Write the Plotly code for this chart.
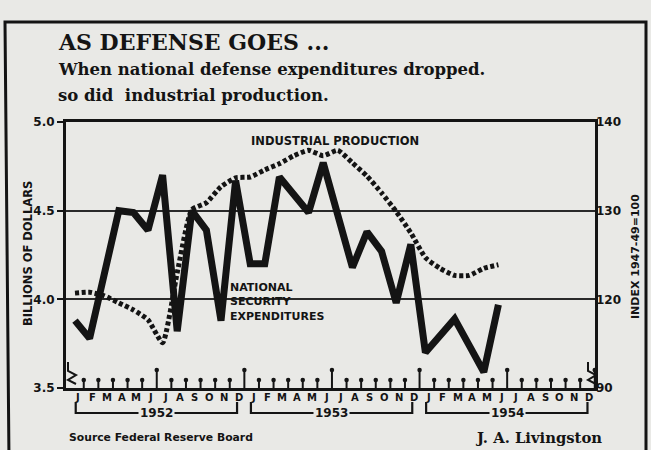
import plotly.graph_objects as go

# ---------------- data ----------------
month_letters = ["J", "F", "M", "A", "M", "J", "J", "A", "S", "O", "N", "D"]
years = ["1952", "1953", "1954"]

# National security expenditures, billions of dollars (Jan 1952 .. Jun 1954)
defense = [3.88, 3.78, 4.14, 4.50, 4.49, 4.39, 4.70, 3.82, 4.50, 4.39, 3.88, 4.67,
           4.20, 4.20, 4.69, 4.59, 4.49, 4.77, 4.48, 4.18, 4.38, 4.27, 3.98, 4.31,
           3.70, 3.80, 3.89, 3.74, 3.59, 3.97]
# Industrial production index, 1947-49 = 100 (Jan 1952 .. Jun 1954)
production = [120.7, 120.8, 120.4, 119.6, 118.8, 117.7, 115.1, 123.0, 130.1, 130.9, 132.7, 133.7,
              133.8, 134.6, 135.3, 136.2, 136.8, 136.2, 136.8, 135.4, 133.9, 132.0, 129.9, 127.5,
              124.7, 123.5, 122.7, 122.7, 123.5, 123.9]

left_ticks = [3.5, 4.0, 4.5, 5.0]
left_labels = ["3.5", "4.0", "4.5", "5.0"]
right_ticks = [110, 120, 130, 140]
right_labels = ["90", "120", "130", "140"]

# ---------------- layout geometry ----------------
W, H = 651, 450
L, R, T, B = 66, 56, 122, 62
X0, X1 = -0.616, 35.616
INK = "#141414"
BG = "#e9e9e6"

def px(xp):   # pixel x -> paper x
    return (xp - L) / (W - L - R)

def py(yp):   # pixel y -> paper y
    return (H - B - yp) / (H - T - B)

n_months = 12 * len(years)
month_idx = list(range(len(defense)))

fig = go.Figure()

fig.add_trace(go.Scatter(
    x=month_idx, y=defense, mode="lines",
    line=dict(color=INK, width=7), yaxis="y", hoverinfo="skip", showlegend=False))

fig.add_trace(go.Scatter(
    x=list(range(len(production))), y=production, mode="lines",
    line=dict(color=INK, width=5, dash="4px,2.6px", shape="spline", smoothing=0.5),
    yaxis="y2", hoverinfo="skip", showlegend=False))

# tick marks along the bottom (month ends), with small heads; tall ones at half years
tick_pos = [i + 0.6 for i in range(n_months)]
short_len = 8 / (H - T - B) * 1.5
tall_len = 18 / (H - T - B) * 1.5
tx, ty, hx, hy = [], [], [], []
for k, t in enumerate(tick_pos):
    ln = tall_len if (k % 6 == 5) else short_len
    tx += [t, t, None]
    ty += [3.5, 3.5 + ln, None]
    hx.append(t)
    hy.append(3.5 + ln)
fig.add_trace(go.Scatter(x=tx, y=ty, mode="lines", line=dict(color=INK, width=2),
                         yaxis="y", hoverinfo="skip", showlegend=False, cliponaxis=False))
fig.add_trace(go.Scatter(x=hx, y=hy, mode="markers", marker=dict(color=INK, size=4.5),
                         yaxis="y", hoverinfo="skip", showlegend=False, cliponaxis=False))

ann = []
shapes = []

def text_ann(x, y, text, size, family="DejaVu Sans", xref="paper", xanchor="center", **kw):
    d = dict(x=x, y=y, xref=xref, yref="paper", xanchor=xanchor, yanchor="middle",
             text=text, showarrow=False, font=dict(family=family, size=size, color=INK))
    d.update(kw)
    ann.append(d)

# month letters
for yi in range(len(years)):
    for mi, m in enumerate(month_letters):
        text_ann(yi * 12 + mi + 0.2, py(397), "<b>%s</b>" % m, 10, xref="x")

# year brackets
for yi, yr in enumerate(years):
    a, b = yi * 12 + 0.05, yi * 12 + 11.1
    shapes.append(dict(type="path", xref="x", yref="paper",
                       path="M %f %f L %f %f L %f %f L %f %f" % (a, py(402), a, py(413), b, py(413), b, py(402)),
                       line=dict(color=INK, width=2.2)))
    text_ann(yi * 12 + 5.6, py(413), "<b>%s</b>" % yr, 12, xref="x", bgcolor=BG, borderpad=1)

# titles
text_ann(px(56), py(42), "<b>AS DEFENSE GOES ...</b>", 22, family="DejaVu Serif", xanchor="left")
text_ann(px(56), py(70), "<b>When national defense expenditures dropped.</b>", 16.5,
         family="DejaVu Serif", xanchor="left")
text_ann(px(56), py(96), "<b>so did  industrial production.</b>", 16.5,
         family="DejaVu Serif", xanchor="left")

# in-chart labels
text_ann(px(249), py(141), "<b>INDUSTRIAL PRODUCTION</b>", 11.5, xanchor="left")
text_ann(px(229), py(301.5), "<b>NATIONAL<br>SECURITY<br>EXPENDITURES</b>", 11,
         xanchor="left", align="left", borderpad=0)

# axis titles
text_ann(px(28), py(254), "<b>BILLIONS OF DOLLARS</b>", 11.5, textangle=-90)
text_ann(px(635), py(257), "<b>INDEX 1947-49=100</b>", 11, textangle=-90)

# footer
text_ann(px(67), py(437), "<b>Source Federal Reserve Board</b>", 10.8, xanchor="left")
text_ann(px(604), py(437), "<b>J. A. Livingston</b>", 14.8, family="DejaVu Serif", xanchor="right")

# outer frame (top, left, right)
shapes.append(dict(type="path", xref="paper", yref="paper",
                   path="M %f %f L %f %f L %f %f L %f %f" % (px(9), py(460), px(5), py(22),
                                                             px(646), py(22), px(646), py(460)),
                   line=dict(color=INK, width=3)))

# axis break marks
for bx in (68, 588):
    shapes.append(dict(type="path", xref="paper", yref="paper",
                       path="M %f %f L %f %f L %f %f L %f %f L %f %f" % (
                           px(bx), py(362), px(bx), py(371), px(bx + 8), py(375),
                           px(bx), py(380), px(bx + 8), py(384)),
                       line=dict(color=INK, width=2)))

fig.update_layout(
    width=W, height=H,
    margin=dict(l=L, r=R, t=T, b=B),
    paper_bgcolor=BG, plot_bgcolor=BG,
    showlegend=False,
    xaxis=dict(range=[X0, X1], showgrid=False, zeroline=False, showticklabels=False,
               showline=True, linecolor=INK, linewidth=3, mirror=True, ticks=""),
    yaxis=dict(range=[3.5, 5.0], tickvals=left_ticks,
               ticktext=["<b>%s</b>" % s for s in left_labels],
               tickfont=dict(family="DejaVu Sans", size=12, color=INK),
               showgrid=True, gridcolor="#2a2a2a", gridwidth=2, zeroline=False,
               showline=True, linecolor=INK, linewidth=3, mirror=True,
               ticks="outside", ticklen=6, tickwidth=2, tickcolor=INK),
    yaxis2=dict(range=[110, 140], overlaying="y", side="right", tickvals=right_ticks,
                ticktext=["<b>%s</b>" % s for s in right_labels],
                tickfont=dict(family="DejaVu Sans", size=12, color=INK),
                showgrid=False, zeroline=False, showline=False, ticks=""),
    annotations=ann,
    shapes=shapes,
)

fig.write_html("out.html", config={"displayModeBar": False},
               post_script="document.body.style.margin='0px';document.body.style.background='%s';" % BG)
